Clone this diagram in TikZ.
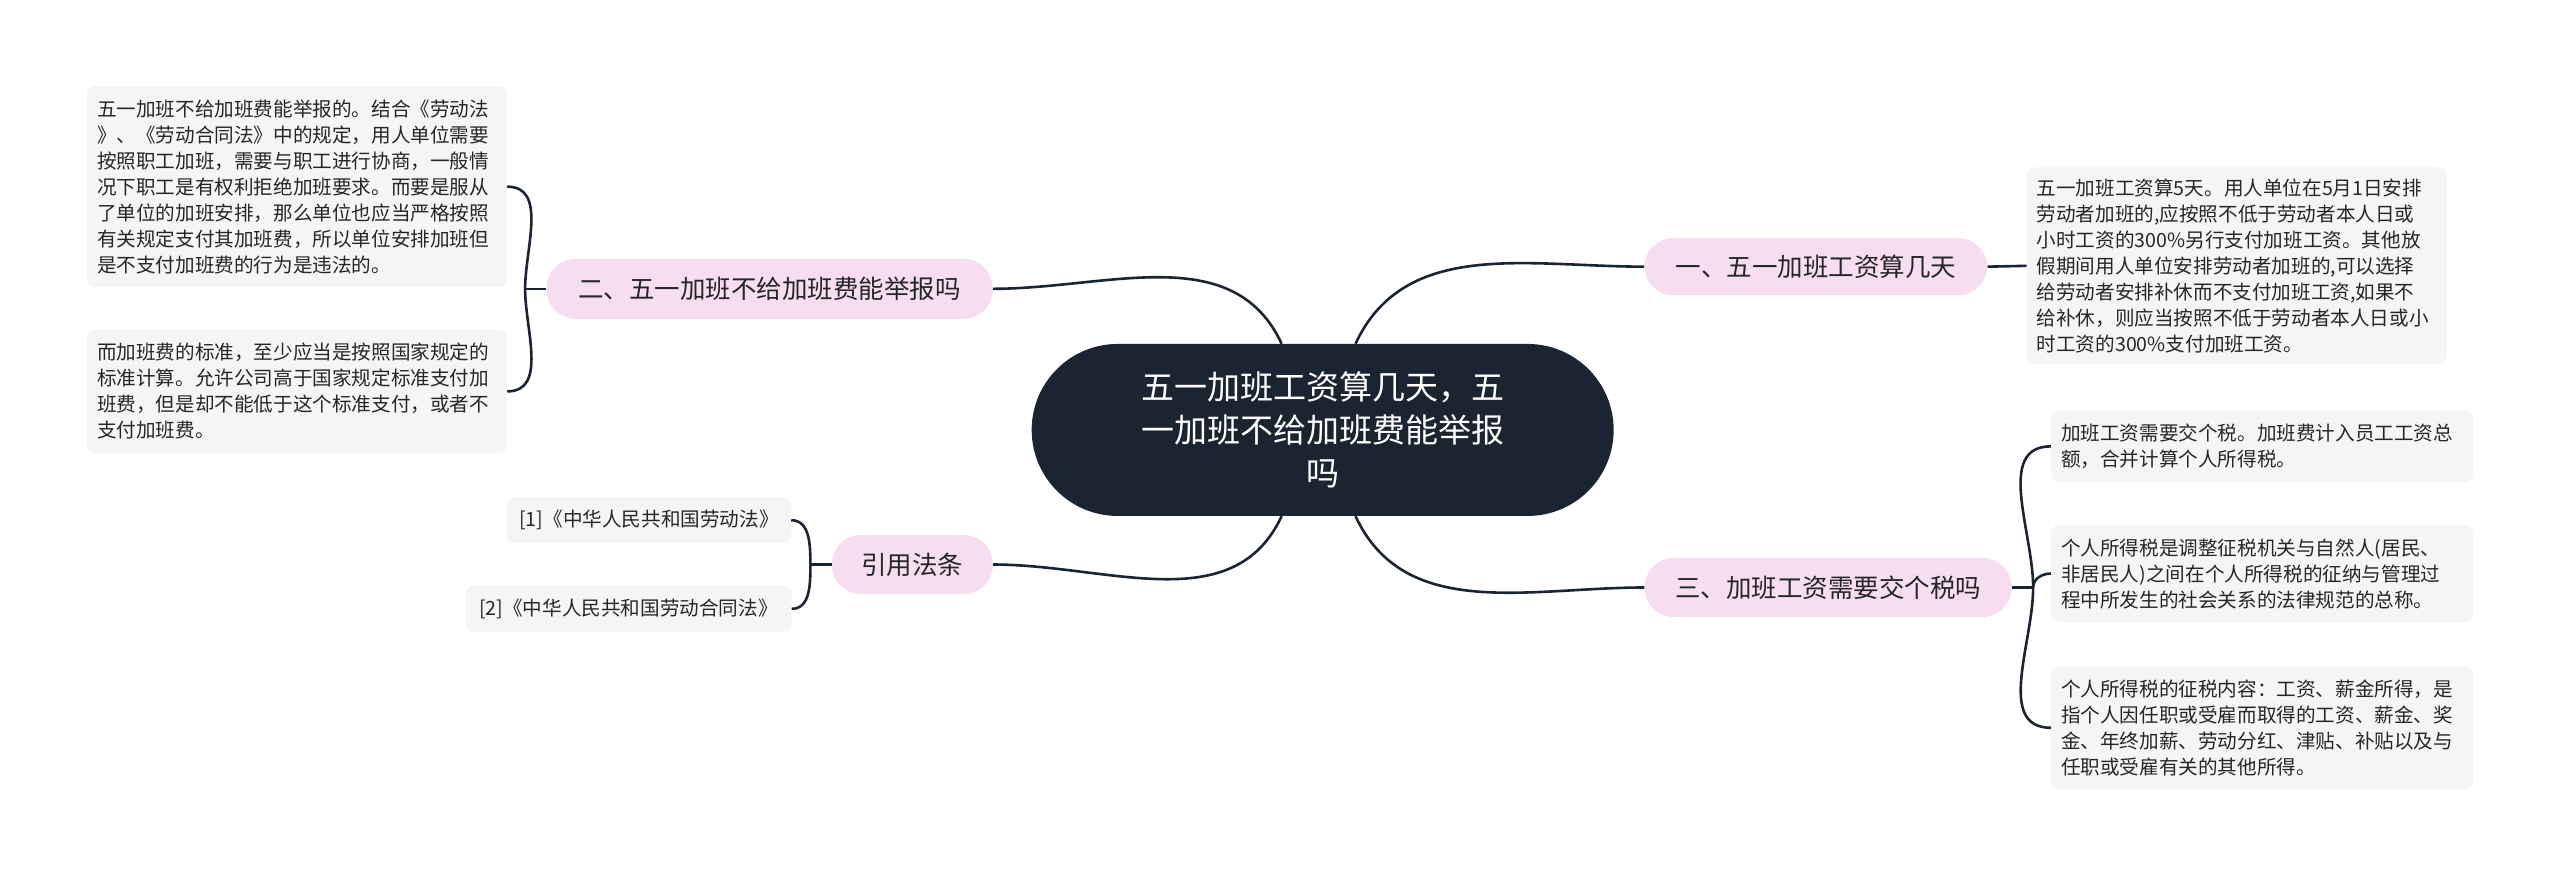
\documentclass[tikz,border=0pt]{standalone}
\usepackage{fontspec}
\setmainfont{Noto Sans CJK SC}
\usetikzlibrary{calc}
\definecolor{ink}{HTML}{1B2431}
\definecolor{pinkf}{HTML}{F6DDF0}
\definecolor{leaff}{HTML}{F5F5F5}
\begin{document}
\begin{tikzpicture}[x=1.641pt,y=-1.641pt,
  leafbox/.style={fill=leaff,rounded corners=8pt,inner xsep=10pt,inner ysep=6pt,align=left,font=\fontsize{19.6pt}{26pt}\selectfont,text=black!85},
  branch/.style={fill=pinkf,rounded corners=29pt,inner sep=0pt,font=\fontsize{25.5pt}{30pt}\selectfont,text=black!85},
  conn/.style={draw=ink,line width=2.6pt}]
\useasboundingbox (0,0) rectangle (1560,534);
\fill[white] (0,0) rectangle (1560,534);
% central
\node[fill=ink,text=white,rounded corners=86pt,minimum width=582pt,minimum height=172pt,align=center,font=\fontsize{33pt}{43pt}\selectfont] (c) at (806,262) {五一加班工资算几天，五\\一加班不给加班费能举报\\吗};
% branches
\node[branch,minimum width=343pt,minimum height=57pt] (n1) at (1106.5,162.5) {一、五一加班工资算几天};
\node[branch,minimum width=367pt,minimum height=59pt] (n3) at (1114,358) {三、加班工资需要交个税吗};
\node[branch,minimum width=446pt,minimum height=60pt] (n2) at (469,176) {二、五一加班不给加班费能举报吗};
\node[branch,minimum width=161pt,minimum height=59pt] (n4) at (556,344) {引用法条};
% leaves
\node[leafbox,text width=400pt,minimum height=197pt] (r1) at (1363,162) {五一加班工资算5天。用人单位在5月1日安排\\劳动者加班的,应按照不低于劳动者本人日或\\小时工资的300\%另行支付加班工资。其他放\\假期间用人单位安排劳动者加班的,可以选择\\给劳动者安排补休而不支付加班工资,如果不\\给补休，则应当按照不低于劳动者本人日或小\\时工资的300\%支付加班工资。};
\node[leafbox,text width=402pt,minimum height=72pt] (b1) at (1378.5,272) {加班工资需要交个税。加班费计入员工工资总\\额，合并计算个人所得税。};
\node[leafbox,text width=402pt,minimum height=97pt] (b2) at (1378.5,349.5) {个人所得税是调整征税机关与自然人(居民、\\非居民人)之间在个人所得税的征纳与管理过\\程中所发生的社会关系的法律规范的总称。};
\node[leafbox,text width=402pt,minimum height=123pt] (b3) at (1378.5,443.5) {个人所得税的征税内容：工资、薪金所得，是\\指个人因任职或受雇而取得的工资、薪金、奖\\金、年终加薪、劳动分红、津贴、补贴以及与\\任职或受雇有关的其他所得。};
\node[leafbox,text width=400pt,minimum height=201pt] (l1) at (181,113.75) {五一加班不给加班费能举报的。结合《劳动法\\》、《劳动合同法》中的规定，用人单位需要\\按照职工加班，需要与职工进行协商，一般情\\况下职工是有权利拒绝加班要求。而要是服从\\了单位的加班安排，那么单位也应当严格按照\\有关规定支付其加班费，所以单位安排加班但\\是不支付加班费的行为是违法的。};
\node[leafbox,text width=400pt,minimum height=123pt] (l2) at (181,238.5) {而加班费的标准，至少应当是按照国家规定的\\标准计算。允许公司高于国家规定标准支付加\\班费，但是却不能低于这个标准支付，或者不\\支付加班费。};
\node[leafbox,minimum width=284pt,minimum height=46pt] (f1) at (395.5,317) {[1]《中华人民共和国劳动法》};
\node[leafbox,minimum width=326pt,minimum height=46pt] (f2) at (383,371) {[2]《中华人民共和国劳动合同法》};
% connectors
\draw[conn] ($(c.north)+(-25,0)$) to[out=115,in=0] (n2.east);
\draw[conn] ($(c.north)+(20,0)$) to[out=65,in=180] (n1.west);
\draw[conn] ($(c.south)+(20,0)$) to[out=-65,in=180] (n3.west);
\draw[conn] ($(c.south)+(-25,0)$) to[out=-115,in=0] (n4.east);
\draw[conn] (n1.east) -- (r1.west);
\draw[conn] (n3.east) -- ++(13,0) coordinate (j3);
\draw[conn] (j3) to[out=90,in=180] (b1.west);
\draw[conn] (j3) to[out=90,in=180] (b2.west);
\draw[conn] (j3) to[out=-90,in=180] (b3.west);
\draw[conn] (n2.west) -- ++(-13,0) coordinate (j2);
\draw[conn] (j2) to[out=90,in=0] (l1.east);
\draw[conn] (j2) to[out=-90,in=0] (l2.east);
\draw[conn] (n4.west) -- ++(-13,0) coordinate (j4);
\draw[conn] (j4) to[out=90,in=0] (f1.east);
\draw[conn] (j4) to[out=-90,in=0] (f2.east);
\end{tikzpicture}
\end{document}
